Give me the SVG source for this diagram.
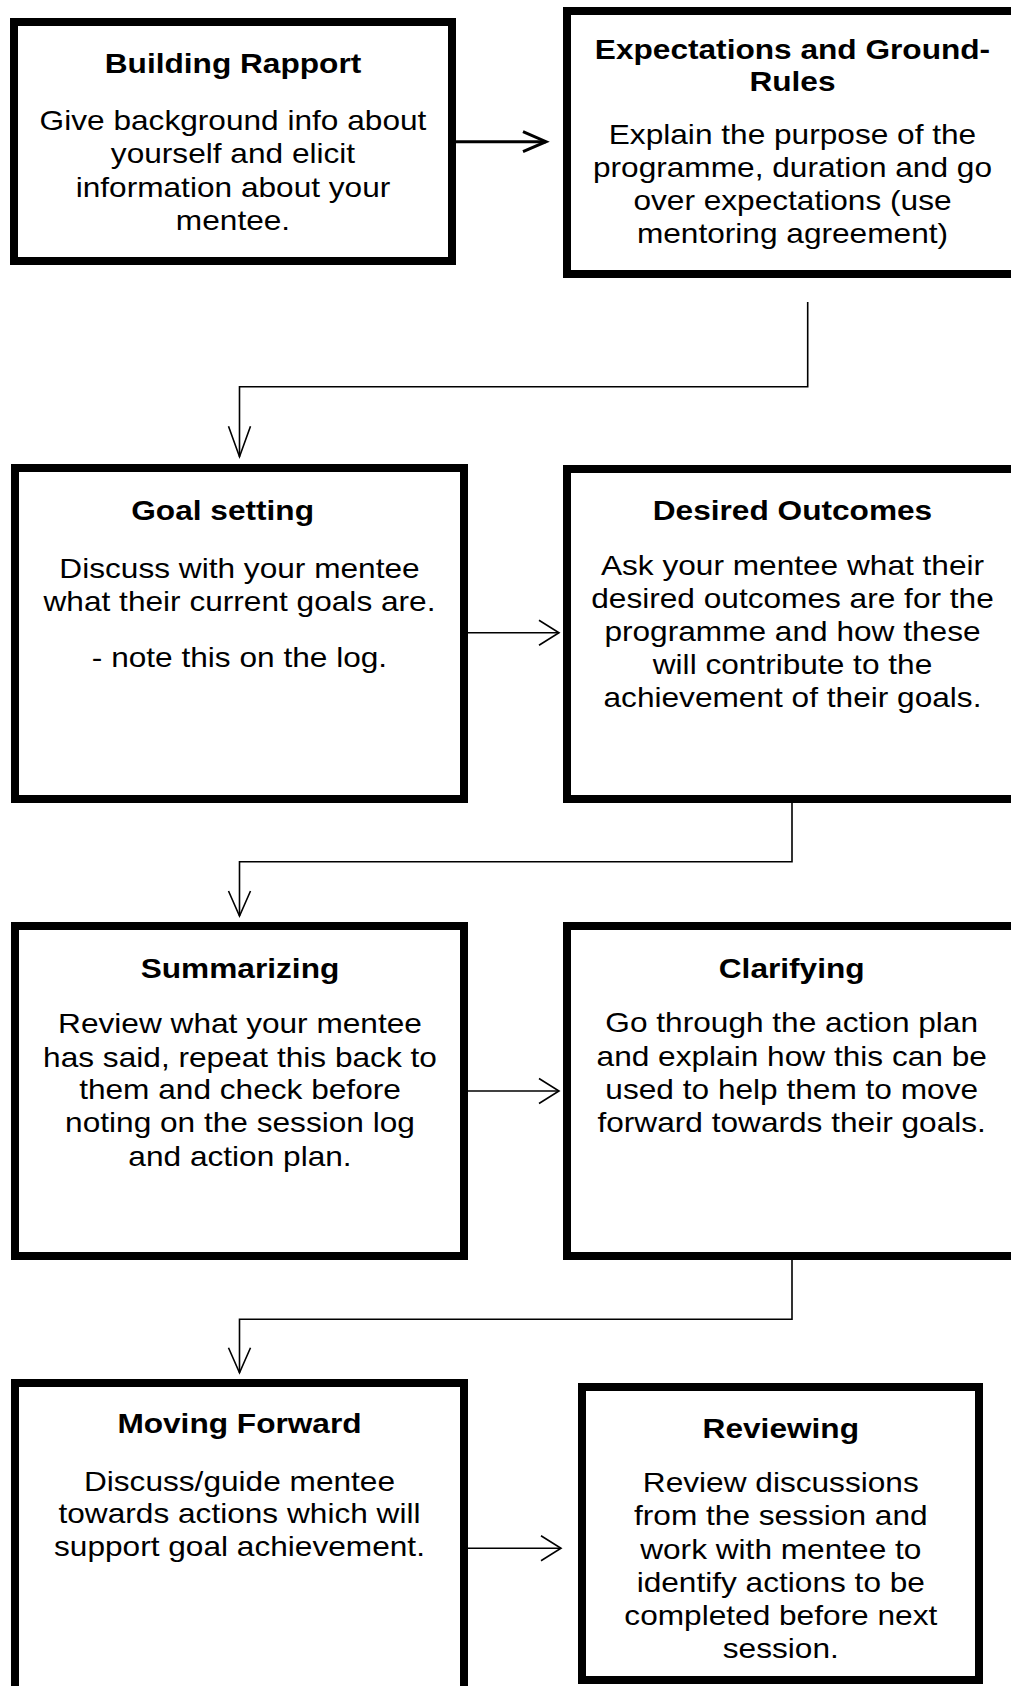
<svg xmlns="http://www.w3.org/2000/svg" width="1011" height="1686" viewBox="0 0 1011 1686">
<style>
.box{fill:#fff;stroke:#000;stroke-width:8}
.t{font-family:"Liberation Sans",Arial,sans-serif;font-size:28px;font-weight:bold;text-anchor:middle;fill:#000}
.b{font-family:"Liberation Sans",Arial,sans-serif;font-size:28px;text-anchor:middle;fill:#000}
.c{fill:none;stroke:#000;stroke-width:1.6}
.c1{fill:none;stroke:#000;stroke-width:3}
.ah{fill:none;stroke:#000;stroke-width:1.6}
.ah1{fill:none;stroke:#000;stroke-width:3}
</style>
<defs>
<marker id="a1" markerUnits="userSpaceOnUse" markerWidth="40" markerHeight="40" refX="0" refY="0" orient="auto" overflow="visible"><path class="ah1" d="M-23,-10 L0,0 L-23,10"/></marker>
<marker id="ar" markerUnits="userSpaceOnUse" markerWidth="40" markerHeight="40" refX="0" refY="0" orient="auto" overflow="visible"><path class="ah" d="M-20,-12.5 L0,0 L-20,12.5"/></marker>
<marker id="ad" markerUnits="userSpaceOnUse" markerWidth="40" markerHeight="40" refX="0" refY="0" orient="auto" overflow="visible"><path class="ah" d="M-25,-11 L0,0 L-25,11"/></marker>
<marker id="adl" markerUnits="userSpaceOnUse" markerWidth="40" markerHeight="40" refX="0" refY="0" orient="auto" overflow="visible"><path class="ah" d="M-30.5,-11 L0,0 L-30.5,11"/></marker>
</defs>
<rect width="1011" height="1686" fill="#fff"/>
<g id="connectors">
<line class="c1" x1="456" y1="141.7" x2="546" y2="141.7" marker-end="url(#a1)"/>
<polyline class="c" points="807.7,302 807.7,386.7 239.5,386.7 239.5,456.7" marker-end="url(#adl)"/>
<line class="c" x1="468" y1="632.7" x2="559" y2="632.7" marker-end="url(#ar)"/>
<polyline class="c" points="792,803 792,861.7 239.5,861.7 239.5,916" marker-end="url(#ad)"/>
<line class="c" x1="468" y1="1091" x2="559" y2="1091" marker-end="url(#ar)"/>
<polyline class="c" points="792,1260 792,1319.3 239.5,1319.3 239.5,1372.7" marker-end="url(#ad)"/>
<line class="c" x1="468" y1="1548.3" x2="561" y2="1548.3" marker-end="url(#ar)"/>
</g>
<g id="building-rapport">
<rect class="box" x="14" y="22" width="438" height="239"/>
<g transform="matrix(1.13 0 0 1 -30.29 0)">
<text class="t" x="233" y="72.7">Building Rapport</text>
<text class="b" x="233" y="130">Give background info about</text>
<text class="b" x="233" y="163.3">yourself and elicit</text>
<text class="b" x="233" y="196.7">information about your</text>
<text class="b" x="233" y="230">mentee.</text>
</g>
</g>
<g id="expectations">
<rect class="box" x="567" y="11" width="451" height="263"/>
<g transform="matrix(1.13 0 0 1 -103.03 0)">
<text class="t" x="792.5" y="59.3">Expectations and Ground-</text>
<text class="t" x="792.5" y="90.7">Rules</text>
<text class="b" x="792.5" y="144">Explain the purpose of the</text>
<text class="b" x="792.5" y="177">programme, duration and go</text>
<text class="b" x="792.5" y="210.5">over expectations (use</text>
<text class="b" x="792.5" y="243.5">mentoring agreement)</text>
</g>
</g>
<g id="goal-setting">
<rect class="box" x="15" y="468" width="449" height="331"/>
<g transform="matrix(1.13 0 0 1 -31.14 0)">
<text class="t" x="224.6" y="520">Goal setting</text>
<text class="b" x="239.5" y="577.7">Discuss with your mentee</text>
<text class="b" x="239.5" y="611">what their current goals are.</text>
<text class="b" x="239.5" y="666.7">- note this on the log.</text>
</g>
</g>
<g id="desired-outcomes">
<rect class="box" x="567" y="469" width="451" height="330"/>
<g transform="matrix(1.13 0 0 1 -103.03 0)">
<text class="t" x="792.5" y="520">Desired Outcomes</text>
<text class="b" x="792.5" y="575">Ask your mentee what their</text>
<text class="b" x="792.5" y="608">desired outcomes are for the</text>
<text class="b" x="792.5" y="641">programme and how these</text>
<text class="b" x="792.5" y="674">will contribute to the</text>
<text class="b" x="792.5" y="707">achievement of their goals.</text>
</g>
</g>
<g id="summarizing">
<rect class="box" x="15" y="926" width="449" height="330"/>
<g transform="matrix(1.13 0 0 1 -31.2 0)">
<text class="t" x="240" y="978.3">Summarizing</text>
<text class="b" x="240" y="1033.3">Review what your mentee</text>
<text class="b" x="240" y="1066.7">has said, repeat this back to</text>
<text class="b" x="240" y="1099.5">them and check before</text>
<text class="b" x="240" y="1132.5">noting on the session log</text>
<text class="b" x="240" y="1166">and action plan.</text>
</g>
</g>
<g id="clarifying">
<rect class="box" x="567" y="926" width="451" height="330"/>
<g transform="matrix(1.13 0 0 1 -102.92 0)">
<text class="t" x="791.7" y="978.3">Clarifying</text>
<text class="b" x="791.7" y="1032.3">Go through the action plan</text>
<text class="b" x="791.7" y="1065.7">and explain how this can be</text>
<text class="b" x="791.7" y="1099">used to help them to move</text>
<text class="b" x="791.7" y="1132.3">forward towards their goals.</text>
</g>
</g>
<g id="moving-forward">
<rect class="box" x="15" y="1383" width="449" height="330"/>
<g transform="matrix(1.13 0 0 1 -31.14 0)">
<text class="t" x="239.5" y="1433.3">Moving Forward</text>
<text class="b" x="239.5" y="1490.7">Discuss/guide mentee</text>
<text class="b" x="239.5" y="1523.3">towards actions which will</text>
<text class="b" x="239.5" y="1556">support goal achievement.</text>
</g>
</g>
<g id="reviewing">
<rect class="box" x="582" y="1387" width="397" height="293"/>
<g transform="matrix(1.13 0 0 1 -101.5 0)">
<text class="t" x="780.8" y="1438.3">Reviewing</text>
<text class="b" x="780.8" y="1491.7">Review discussions</text>
<text class="b" x="780.8" y="1525.3">from the session and</text>
<text class="b" x="780.8" y="1558.7">work with mentee to</text>
<text class="b" x="780.8" y="1592">identify actions to be</text>
<text class="b" x="780.8" y="1625.3">completed before next</text>
<text class="b" x="780.8" y="1658.5">session.</text>
</g>
</g>
</svg>
